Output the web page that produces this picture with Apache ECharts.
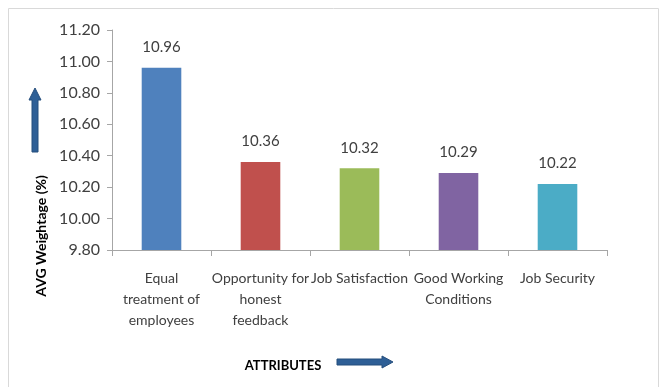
<!DOCTYPE html>
<html>
<head>
<meta charset="utf-8">
<script src="https://cdn.jsdelivr.net/npm/echarts@6/dist/echarts.min.js"></script>
<style>html,body{margin:0;padding:0;background:#fff}#c{width:661px;height:387px}</style>
</head>
<body>
<div id="c"></div>
<script>
var categories = ["Equal\ntreatment of\nemployees", "Opportunity for\nhonest\nfeedback", "Job Satisfaction", "Good Working\nConditions", "Job Security"];
var values = [10.96, 10.36, 10.32, 10.29, 10.22];
var barColors = ["#4F81BD", "#C0504D", "#9BBB59", "#8064A2", "#4BACC6"];
var yTitle = "AVG Weightage (%)";
var xTitle = "ATTRIBUTES";

var chart = echarts.init(document.getElementById('c'), null, {renderer: 'canvas'});
var font = 'Lato, "Liberation Sans", sans-serif';
chart.setOption({
  animation: false,
  grid: {left: 112, right: 54, top: 30, bottom: 137},
  xAxis: {
    type: 'category',
    data: categories,
    axisLine: {lineStyle: {color: '#A6A6A6'}},
    axisTick: {show: true, alignWithLabel: false, length: 6, lineStyle: {color: '#A6A6A6'}},
    axisLabel: {color: '#404040', fontFamily: font, fontSize: 14, lineHeight: 21, margin: 18, interval: 0}
  },
  yAxis: {
    type: 'value',
    min: 9.8, max: 11.2, interval: 0.2,
    axisLine: {show: true, lineStyle: {color: '#A6A6A6'}},
    axisTick: {show: true, length: 5, lineStyle: {color: '#A6A6A6'}},
    splitLine: {show: false},
    axisLabel: {color: '#404040', fontFamily: font, fontSize: 16, margin: 12, formatter: function(v){return v.toFixed(2);}}
  },
  series: [{
    type: 'bar',
    barWidth: '40%',
    data: values.map(function(v, i){ return {value: v, itemStyle: {color: barColors[i]}}; }),
    label: {show: true, position: 'top', distance: 13, color: '#404040', fontFamily: font, fontSize: 15, formatter: function(p){return p.value.toFixed(2);}}
  }],
  graphic: [
    {type: 'rect', shape: {x: 8.5, y: 8.5, width: 650, height: 390}, style: {fill: null, stroke: '#D9D9D9', lineWidth: 1}, silent: true},
    {type: 'text', x: 41, y: 236, rotation: Math.PI / 2, style: {text: yTitle, font: 'bold 14px ' + font, fill: '#000', align: 'center', verticalAlign: 'middle'}},
    {type: 'text', x: 283, y: 366, style: {text: xTitle, font: 'bold 13px ' + font, fill: '#000', align: 'center', verticalAlign: 'middle'}},
    {type: 'polygon', shape: {points: [[32, 152], [32, 100], [29, 100], [35, 88], [41, 100], [38, 100], [38, 152]]}, style: {fill: '#2E5F96', stroke: '#254E7C', lineWidth: 1}},
    {type: 'polygon', shape: {points: [[337, 359], [382, 359], [382, 356], [393, 362], [382, 368], [382, 365], [337, 365]]}, style: {fill: '#2E5F96', stroke: '#254E7C', lineWidth: 1}}
  ]
});
</script>
</body>
</html>
